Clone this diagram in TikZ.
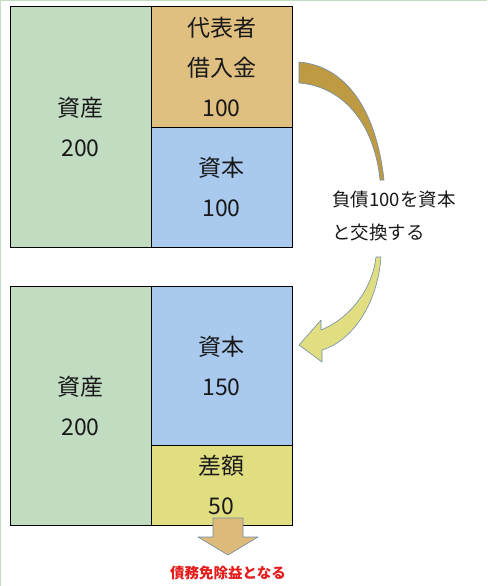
\documentclass[tikz,border=0pt]{standalone}
\usepackage{fontspec}
\usepackage{xcolor}
\usepackage{tikz}
\usetikzlibrary{positioning}
\newfontfamily\jpfont{Noto Sans CJK JP}
\definecolor{assetgreen}{RGB}{194,220,194}
\definecolor{loanorange}{RGB}{224,192,128}
\definecolor{capblue}{RGB}{169,201,238}
\definecolor{diffyellow}{RGB}{224,222,128}
\definecolor{arrowgold}{RGB}{190,155,66}
\definecolor{arrowyellow}{RGB}{225,222,130}
\definecolor{arrowtan}{RGB}{222,186,122}
\definecolor{edgeblue}{RGB}{110,140,170}
\definecolor{frmgreen}{RGB}{192,222,192}
\definecolor{txtdark}{RGB}{25,25,25}
\definecolor{gainred}{RGB}{228,28,28}
\tikzset{
  box/.style={rectangle, draw=black, line width=1pt, align=center,
    inner sep=0pt, outer sep=0pt, text=txtdark,
    font=\jpfont\fontsize{23}{40}\selectfont},
  bigarrow/.style={draw=edgeblue, line width=0.6pt, line join=round},
  note/.style={align=left, text=txtdark, inner sep=0pt,
    font=\jpfont\fontsize{18.5}{33}\selectfont}
}

\begin{document}
\begin{tikzpicture}[x=1pt, y=-1pt]
  \useasboundingbox (0,0) rectangle (487,586);
  \draw[frmgreen, line width=2pt] (0,586) -- (0,0) -- (487,0);

  % Before: debt from the representative
  \node[box, fill=assetgreen, minimum width=141pt, minimum height=240pt, anchor=north west] (asset1) at (10,7) {資産\\200};
  \node[box, fill=loanorange, minimum width=141pt, minimum height=120pt, anchor=north west] (loan1) at (asset1.north east) {代表者\\借入金\\100};
  \node[box, fill=capblue, minimum width=141pt, minimum height=120pt, below=0pt of loan1] (cap1) {資本\\100};

  % After: debt-equity swap
  \node[box, fill=assetgreen, minimum width=141pt, minimum height=239pt, anchor=north west] (asset2) at (10,286) {資産\\200};
  \node[box, fill=capblue, minimum width=141pt, minimum height=159pt, anchor=north west] (cap2) at (asset2.north east) {資本\\150};
  \node[box, fill=diffyellow, minimum width=141pt, minimum height=80pt, below=0pt of cap2] (diff2) {差額\\50};

  % curved arrows
  \draw[bigarrow, fill=arrowgold] (299,62) .. controls (345,66) and (376,108) .. (384,180)
    -- (380,180) .. controls (374,120) and (340,86) .. (299,83) -- cycle;
  \node[note, anchor=west] (swap) at (332,216.5) {負債100を資本\\と交換する};
  \draw[bigarrow, fill=arrowyellow] (376,257) -- (381,257)
    .. controls (378,300) and (355,340) .. (322,350)
    -- (322,362) -- (299,345) -- (321,320) -- (321,330)
    .. controls (350,318) and (372,290) .. (376,257) -- cycle;

  % gain arrow
  \draw[bigarrow, fill=arrowtan] (213,518) -- (243,518) -- (243,537) -- (258,537)
    -- (228,555) -- (198,537) -- (213,537) -- cycle;
  \node[text=gainred, font=\jpfont\bfseries\fontsize{14.5}{16}\selectfont] (gain) at (228,573) {債務免除益となる};
\end{tikzpicture}
\end{document}
